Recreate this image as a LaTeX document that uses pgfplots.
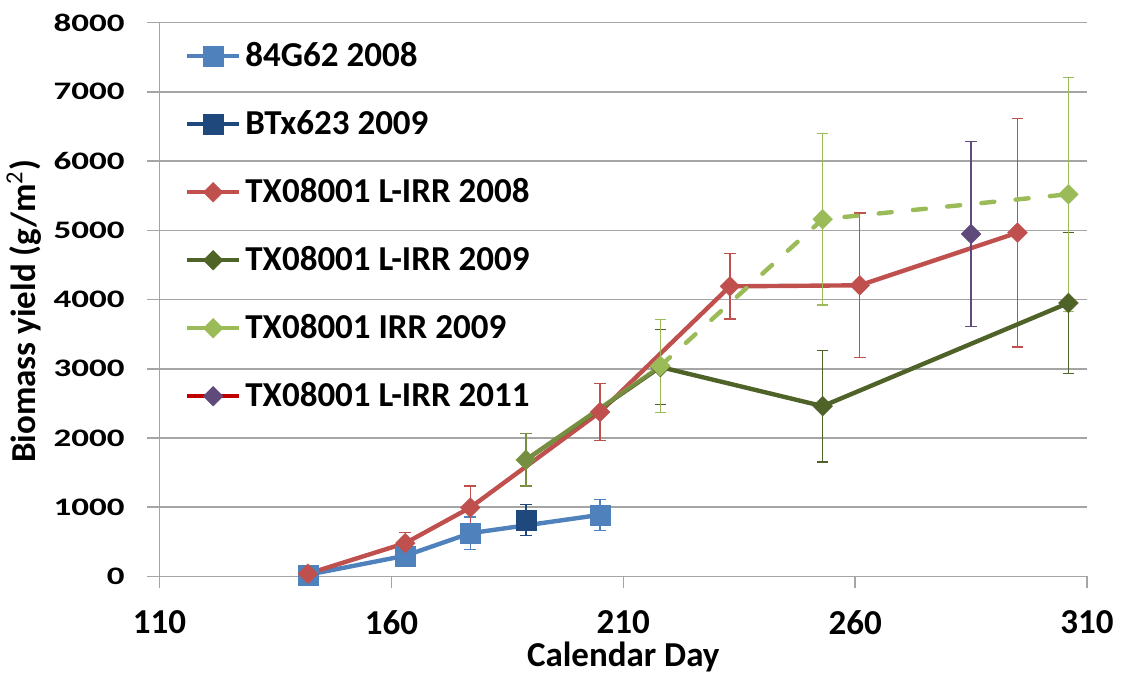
\documentclass[border=0pt]{standalone}
\usepackage{fontspec}
\setmainfont{Carlito}
\usepackage{pgfplots}
\pgfplotsset{compat=1.18}
\definecolor{blueA}{HTML}{4F81BD}
\definecolor{blueB}{HTML}{1F497D}
\definecolor{redA}{HTML}{C0504D}
\definecolor{dgreen}{HTML}{4F6228}
\definecolor{lgreen}{HTML}{9BBB59}
\definecolor{purp}{HTML}{604A7B}
\definecolor{legred}{HTML}{C00000}
\definecolor{gridc}{HTML}{A5A5A5}
\newcommand{\bigbf}{\fontsize{17.5}{21}\selectfont\bfseries}
\pgfplotsset{
  eb/.style={error bars/.cd, y dir=both, y explicit,
    error bar style={solid, line width=0.65pt, draw=#1},
    error mark options={solid, rotate=90, mark size=2.9pt, line width=0.65pt, draw=#1}},
  sq/.style={#1, line width=2.2pt, mark=square*, mark size=5pt,
    mark options={solid, fill=#1, draw=#1, line width=0.1pt}},
  dm/.style={#1, line width=2.2pt, mark=diamond*, mark size=5pt,
    mark options={solid, xscale=1.333, fill=#1, draw=#1, line width=0.1pt}},
}
\begin{document}
\begin{tikzpicture}
\begin{axis}[
  scale only axis, width=463.75pt, height=277pt,
  xmin=110, xmax=310, ymin=0, ymax=8000,
  xtick={110,160,210,260,310}, xticklabels={110,160,210,260,310},
  ytick={0,1000,2000,3000,4000,5000,6000,7000,8000},
  yticklabels={0,1000,2000,3000,4000,5000,6000,7000,8000},
  axis x line*=bottom, axis y line*=left,
  axis line style={draw=gridc, line width=0.75pt, -},
  ymajorgrids, grid style={draw=gridc, line width=0.75pt},
  tick align=outside, major tick length=6pt,
  tick style={draw=gridc, line width=0.75pt},
  xticklabel style={font=\bigbf, anchor=north, inner sep=0pt, yshift=-11pt},
  yticklabel style={font=\bigbf, anchor=east, inner sep=0pt, xshift=-11.25pt, yscale=0.72},
  xlabel={Calendar Day},
  ylabel={Biomass yield (g/m\textsuperscript{\mdseries 2})},
  xlabel style={font=\bigbf, at={(axis description cs:0.5,-0.1625)}, anchor=base},
  ylabel style={font=\bigbf, at={(axis description cs:-0.1342,0.4787)}, anchor=base},
  legend cell align=left,
  legend style={at={(axis description cs:0.0275,0.968)}, anchor=north west,
    draw=none, fill=none, inner sep=0pt, outer sep=0pt, row sep=18pt, column sep=0pt,
    font=\bigbf,
    nodes={inner xsep=2pt, inner ysep=0pt, text height=13pt, text depth=3pt}},
  legend image code/.code={\draw[mark repeat=2,mark phase=2,#1] plot coordinates {(0pt,0pt) (13pt,0pt) (26pt,0pt)};},
]
% legend
\addlegendimage{sq=blueA}
\addlegendentry{84G62 2008}
\addlegendimage{sq=blueB}
\addlegendentry{BTx623 2009}
\addlegendimage{dm=redA}
\addlegendentry{TX08001 L-IRR 2008}
\addlegendimage{dm=dgreen}
\addlegendentry{TX08001 L-IRR 2009}
\addlegendimage{dm=lgreen}
\addlegendentry{TX08001 IRR 2009}
\addlegendimage{legred, line width=2.2pt, mark=diamond*, mark size=5pt,
    mark options={xscale=1.333, fill=purp, draw=purp, line width=0.1pt}}
\addlegendentry{TX08001 L-IRR 2011}

% 84G62 2008
\addplot[sq=blueA, forget plot, eb=blueA] table[x=x, y=y, y error=e] {
x y e
142 25 30
163 300 60
177 625 233
205 890 225
};
% BTx623 2009
\addplot[sq=blueB, forget plot, eb=blueB] table[x=x, y=y, y error=e] {
x y e
189 815 220
};
% TX08001 L-IRR 2008
\addplot[dm=redA, forget plot, eb=redA] table[x=x, y=y, y error=e] {
x y e
142 40 50
163 482 150
177 995 310
205 2375 410
233 4190 470
261 4205 1045
295 4965 1650
};
% TX08001 L-IRR 2009
\addplot[dm=dgreen, forget plot, eb=dgreen] table[x=x, y=y, y error=e] {
x y e
189 1684 378
218 3025 546
253 2460 805
306 3950 1015
};
% TX08001 IRR 2009 (solid first segment, blended over the L-IRR 2009 line)
\addplot[dm=lgreen, opacity=0.5, forget plot, eb=lgreen] table[x=x, y=y, y error=e] {
x y e
189 1684 378
218 3040 668
};
% TX08001 IRR 2009 (dashed part)
\addplot[dm=lgreen, dash pattern=on 6.5pt off 10.7pt, line cap=round, forget plot, eb=lgreen] table[x=x, y=y, y error=e] {
x y e
218 3040 668
253 5160 1240
306 5520 1690
};
% TX08001 L-IRR 2011
\addplot[legred, line width=2.2pt, mark=diamond*, mark size=5pt,
    mark options={xscale=1.333, fill=purp, draw=purp, line width=0.1pt},
    forget plot, eb=purp] table[x=x, y=y, y error=e] {
x y e
285 4945 1335
};
\end{axis}
\pgfresetboundingbox
\path[use as bounding box] (-79.75pt,-48.15pt) rectangle (481.75pt,288.25pt);
\end{tikzpicture}
\end{document}
